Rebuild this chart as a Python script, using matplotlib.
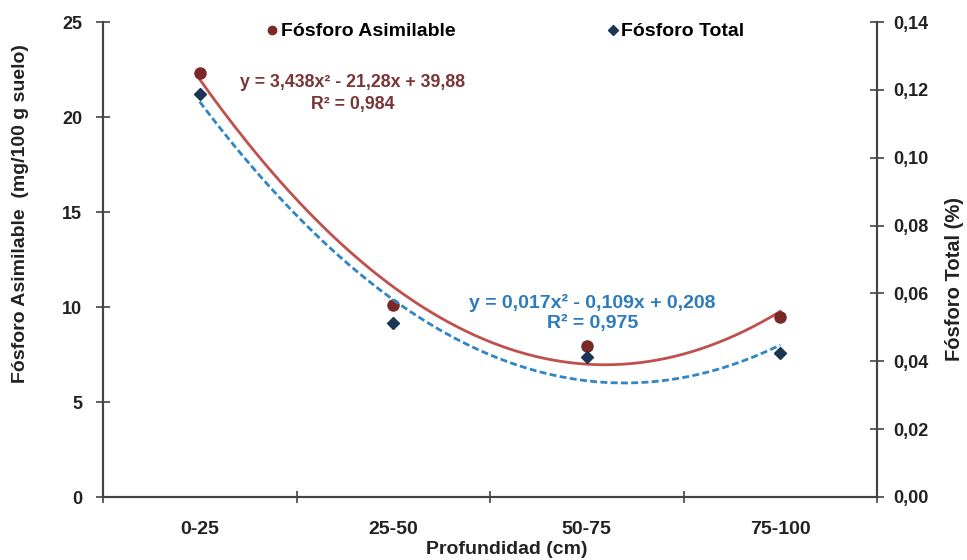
import numpy as np
import matplotlib
matplotlib.use("Agg")
import matplotlib.pyplot as plt
from matplotlib.lines import Line2D

plt.rcParams['font.family'] = ['Liberation Sans', 'DejaVu Sans']

categories = ["0-25", "25-50", "50-75", "75-100"]
p_asimilable = [22.3, 10.1, 7.95, 9.45]        # mg/100 g suelo (left axis)
p_total = [0.1188, 0.0512, 0.0412, 0.0425]     # % (right axis)
left_ticks = [0, 5, 10, 15, 20, 25]
right_ticks = [0.00, 0.02, 0.04, 0.06, 0.08, 0.10, 0.12, 0.14]
eq_asim = "y = 3,438x² - 21,28x + 39,88\nR² = 0,984"
eq_total = "y = 0,017x² - 0,109x + 0,208\nR² = 0,975"

fig = plt.figure(figsize=(9.67, 5.6), dpi=100)
ax = fig.add_axes([0.1065, 0.1125, 0.8005, 0.8482])
ax2 = ax.twinx()

x = np.arange(1, len(categories) + 1)
xs = np.linspace(1, 4, 200)

c_pt_a = "#7A2828"
c_ln_a = "#C0504D"
c_pt_t = "#1B3557"
c_ln_t = "#2F86C6"

fa = np.polyfit(x, p_asimilable, 2)
ft = np.polyfit(x, p_total, 2)

ax.plot(xs, np.polyval(fa, xs), color=c_ln_a, lw=2.0, zorder=2)
ax.plot(x, p_asimilable, 'o', color=c_pt_a, ms=8, zorder=3)
ax2.plot(xs, np.polyval(ft, xs), color=c_ln_t, lw=2.0, ls=(0, (2.5, 1.2)), zorder=2)
ax2.plot(x, p_total, 'D', color=c_pt_t, ms=6, zorder=3)

ax.set_xlim(0.5, 4.5)
ax.set_ylim(0, 25)
ax2.set_ylim(0, 0.14)
ax.set_yticks(left_ticks)
ax.set_yticklabels([str(v) for v in left_ticks])
ax2.set_yticks(right_ticks)
ax2.set_yticklabels([f"{v:.2f}".replace('.', ',') for v in right_ticks])

ax.set_xticks([0.5, 1.5, 2.5, 3.5, 4.5])
ax.set_xticklabels([])
ax.set_xticks(x, minor=True)
ax.set_xticklabels(categories, minor=True)
ax.tick_params(axis='x', which='minor', length=0, pad=17.5, labelsize=14, labelcolor="#222222")
ax.tick_params(axis='x', which='major', direction='inout', length=8, width=1.2, color="#444444")
ax.tick_params(axis='y', direction='inout', length=10, width=1.2, color="#444444",
               labelsize=13, labelcolor="#222222", pad=10)
ax2.tick_params(axis='y', direction='inout', length=10, width=1.2, color="#444444",
                labelsize=13, labelcolor="#222222", pad=7)
for lab in ax.get_xticklabels(minor=True) + ax.get_yticklabels() + ax2.get_yticklabels():
    lab.set_fontweight('bold')

for a in (ax, ax2):
    a.spines['top'].set_visible(False)
    for s in ('left', 'right', 'bottom'):
        a.spines[s].set_color("#444444")
        a.spines[s].set_linewidth(1.5)

fig.text(507 / 967, 1 - 549 / 560, "Profundidad (cm)", fontsize=14,
         fontweight='bold', color="#222222", ha='center', va='center')
fig.text(21 / 967, 1 - 214 / 560, "Fósforo Asimilable  (mg/100 g suelo)", fontsize=14,
         fontweight='bold', color="#222222", rotation=90, ha='center', va='center')
fig.text(955 / 967, 1 - 279 / 560, "Fósforo Total (%)", fontsize=14.5,
         fontweight='bold', color="#222222", rotation=90, ha='center', va='center')

ax.text(1.79, 21.24, eq_asim, color="#7B3535", fontsize=12.8, fontweight='bold',
        ha='center', va='center', linespacing=1.35)
ax2.text(3.03, 0.0542, eq_total, color="#2C7BBE", fontsize=14, fontweight='bold',
         ha='center', va='center', linespacing=1.2, zorder=5)

h1 = Line2D([], [], marker='o', color=c_pt_a, ls='none', ms=6)
h2 = Line2D([], [], marker='D', color=c_pt_t, ls='none', ms=5)
leg_kw = dict(loc='center left', frameon=False, handlelength=0.5, handletextpad=0.2,
              borderpad=0, borderaxespad=0, prop={'size': 14, 'weight': 'bold'})
leg1 = ax2.legend([h1], ["Fósforo Asimilable"], bbox_to_anchor=(0.212, 0.98), **leg_kw)
ax2.add_artist(leg1)
ax2.legend([h2], ["Fósforo Total"], bbox_to_anchor=(0.652, 0.98), **leg_kw)

fig.savefig("out.png", dpi=100)
